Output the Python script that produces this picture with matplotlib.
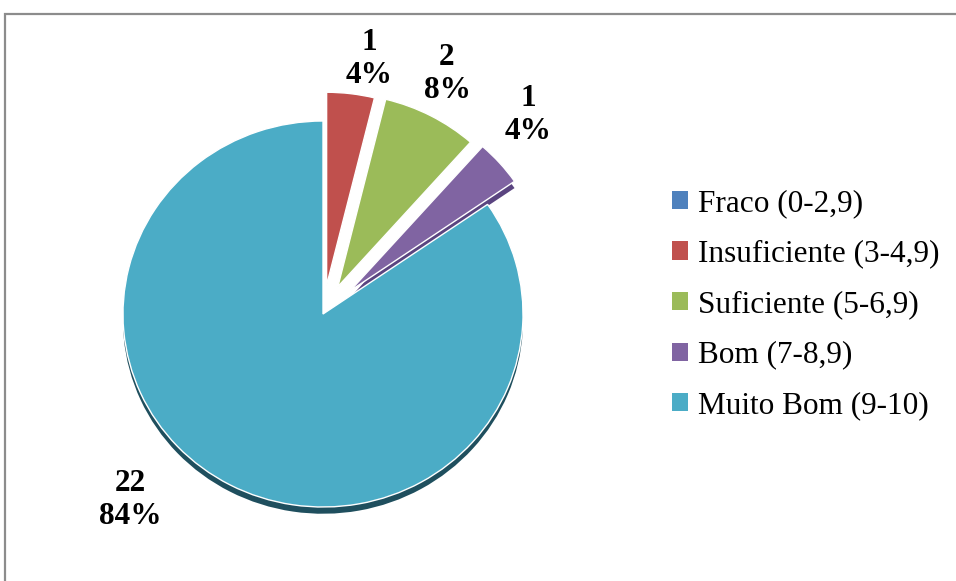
import matplotlib.pyplot as plt
from matplotlib.patches import Patch, Rectangle

# Data
categories = ['Fraco (0-2,9)', 'Insuficiente (3-4,9)', 'Suficiente (5-6,9)',
              'Bom (7-8,9)', 'Muito Bom (9-10)']
counts = [0, 1, 2, 1, 22]
pct_labels = ['0%', '4%', '8%', '4%', '84%']
colors = ['#4F81BD', '#C0504D', '#9BBB59', '#8064A2', '#4BACC6']
dark_colors = ['none', 'none', 'none', '#5a4480', '#1f4f5e']
explode_all = [0, 0.15, 0.16, 0.18, 0]

plt.rcParams['font.family'] = ['Liberation Serif', 'DejaVu Serif']

fig = plt.figure(figsize=(9.56, 5.81), dpi=100)
ax = fig.add_axes([0, 0, 1, 1])

# only non-zero slices are drawn
idx = [i for i, c in enumerate(counts) if c > 0]
vals = [counts[i] for i in idx]
expl = [explode_all[i] for i in idx]

# dark rim beneath for the 3D look
ax.pie(vals, colors=[dark_colors[i] for i in idx], explode=expl, startangle=90,
       counterclock=False, radius=1, center=(0.0, -0.035), frame=True,
       wedgeprops=dict(linewidth=0))
wedges, _ = ax.pie(vals, colors=[colors[i] for i in idx], explode=expl,
                   startangle=90, counterclock=False, radius=1, center=(0, 0),
                   frame=True, wedgeprops=dict(edgecolor='white', linewidth=1))
# pixel mapping: center (323, 314), radius 200 px wide, 193 px tall
ax.set_xlim(-323 / 200, (956 - 323) / 200)
ax.set_ylim((314 - 581) / 193, 314 / 193)
ax.set_aspect('auto')
ax.axis('off')

# data labels
label_pos = {1: (0.23, 1.32), 2: (0.62, 1.245), 3: (1.025, 1.031), 4: (-0.965, -0.964)}
for i, (x, y) in label_pos.items():
    ax.text(x, y, f'{counts[i]}\n{pct_labels[i]}', ha='center', va='center',
            fontsize=22.5, fontweight='bold', linespacing=1.2)

# legend
handles = [Patch(facecolor=c, edgecolor='none') for c in colors]
fig.legend(handles, categories, loc='upper left',
           bbox_to_anchor=(672 / 956, 1 - 189 / 581), frameon=False,
           fontsize=22.5, handlelength=0.52, handleheight=0.52, handletextpad=0.3,
           labelspacing=0.69, borderpad=0, borderaxespad=0)

# chart border (cropped on right and bottom)
fig.patches.append(Rectangle((5 / 956, -0.1), 1.2, (581 - 14) / 581 + 0.1,
                             transform=fig.transFigure, fill=False,
                             edgecolor='#8c8c8c', linewidth=1.6))

fig.savefig('out.png', dpi=100)
